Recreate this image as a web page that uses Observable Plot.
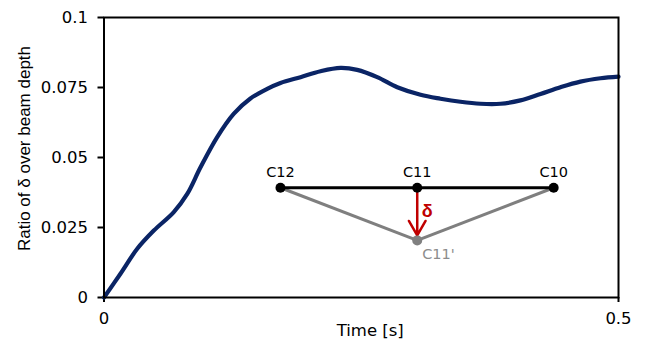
<!DOCTYPE html>
<html>
<head>
<meta charset="utf-8">
<script src="https://cdn.jsdelivr.net/npm/d3@7"></script>
<script src="https://cdn.jsdelivr.net/npm/@observablehq/plot@0.6"></script>
<style>
  html, body { margin: 0; padding: 0; background: #fff; overflow: hidden; }
  #chart svg g[aria-label="x-axis tick label"],
  #chart svg g[aria-label="y-axis tick label"],
  #chart svg g[aria-label="x-axis tick label"] text,
  #chart svg g[aria-label="y-axis tick label"] text {
    font-size: 16.5px; font-family: 'DejaVu Sans', Verdana, sans-serif; fill: #000;
  }
</style>
</head>
<body>
<div id="chart"></div>
<script>
// Curve data (Time [s] vs ratio of δ over beam depth)
const time = [0, 0.016, 0.0323, 0.0484, 0.0678, 0.0809, 0.0938, 0.110, 0.126, 0.142, 0.1586, 0.1715,
  0.191, 0.2104, 0.2298, 0.246, 0.2655, 0.285, 0.3076, 0.327, 0.3464, 0.3659, 0.3853, 0.4047,
  0.4242, 0.4436, 0.463, 0.4825, 0.5];
const ratio = [0, 0.0085, 0.0174, 0.0239, 0.0305, 0.037, 0.0465, 0.0573, 0.0656, 0.071, 0.0745, 0.0766,
  0.0787, 0.0808, 0.082, 0.0813, 0.0787, 0.0751, 0.0724, 0.071, 0.0699, 0.0692, 0.0692, 0.0704,
  0.0727, 0.0751, 0.0771, 0.0783, 0.0789];

// Axis ticks
const xTicks = [0, 0.5];
const xTickLabels = ["0", "0.5"];
const yTicks = [0, 0.025, 0.05, 0.075, 0.1];
const yTickLabels = ["0", "0.025", "0.05", "0.075", "0.1"];
const xTitle = "Time [s]";
const yTitle = "Ratio of δ over beam depth";

// Inset diagram nodes (in chart coordinates)
const nodeLabels = ["C12", "C11", "C10", "C11'"];
const nodeT = [0.1715, 0.3044, 0.437, 0.3044];
const nodeV = [0.0392, 0.0392, 0.0392, 0.0204];
const blackEdges = [[0, 2]];
const grayEdges = [[0, 3], [3, 2]];
const arrowEdges = [[1, 3]];
const deltaLabel = ["δ"];

const curve = time.map((t, i) => ({t, v: ratio[i]}));
const topNodes = [0, 1, 2];
const wide = "'DejaVu Sans', Verdana, sans-serif";
const arial = "'Liberation Sans', Arial, Helvetica, sans-serif";

const chart = Plot.plot({
  width: 648,
  height: 350,
  marginLeft: 103.5,
  marginRight: 30,
  marginTop: 17,
  marginBottom: 53,
  x: {domain: [0, 0.5]},
  y: {domain: [0, 0.1]},
  style: {fontFamily: wide, fontSize: "16px", color: "black", background: "white"},
  marks: [
    Plot.axisX({ticks: xTicks, tickSize: 5, tickPadding: 10, strokeWidth: 2,
      tickFormat: (d, i) => xTickLabels[i], label: null, fontSize: 16.5, fontFamily: wide}),
    Plot.axisY({ticks: yTicks, tickSize: 6, tickPadding: 10, strokeWidth: 2,
      tickFormat: (d, i) => yTickLabels[i], label: null, fontSize: 16.5, fontFamily: wide}),
    Plot.text([xTitle], {text: d => d, frameAnchor: "bottom", textAnchor: "middle", dx: 9, dy: 38,
      fontSize: 16.5, fontFamily: wide, fill: "black"}),
    Plot.text([yTitle], {text: d => d, frameAnchor: "left", textAnchor: "middle", lineAnchor: "middle",
      rotate: -90, dx: -79, dy: -9, fontSize: 17, fontFamily: arial, fill: "black"}),
    Plot.line(curve, {x: "t", y: "v", curve: "catmull-rom", stroke: "#0a2465", strokeWidth: 4.2}),
    Plot.link(grayEdges, {x1: d => nodeT[d[0]], y1: d => nodeV[d[0]], x2: d => nodeT[d[1]], y2: d => nodeV[d[1]],
      stroke: "#7f7f7f", strokeWidth: 3}),
    Plot.link(blackEdges, {x1: d => nodeT[d[0]], y1: d => nodeV[d[0]], x2: d => nodeT[d[1]], y2: d => nodeV[d[1]],
      stroke: "black", strokeWidth: 3}),
    Plot.arrow(arrowEdges, {x1: d => nodeT[d[0]], y1: d => nodeV[d[0]], x2: d => nodeT[d[1]], y2: d => nodeV[d[1]],
      insetStart: 5, insetEnd: 5, headLength: 10, stroke: "#c00000", strokeWidth: 2.5}),
    Plot.dot(topNodes, {x: i => nodeT[i], y: i => nodeV[i], r: 5, fill: "black"}),
    Plot.dot([3], {x: i => nodeT[i], y: i => nodeV[i], r: 5, fill: "#808080"}),
    Plot.text(topNodes, {x: i => nodeT[i], y: i => nodeV[i], text: i => nodeLabels[i], dy: -15,
      fontSize: 14.5, fontFamily: wide, fill: "black"}),
    Plot.text([3], {x: i => nodeT[i], y: i => nodeV[i], text: i => nodeLabels[i], dx: 5, dy: 14,
      textAnchor: "start", fontSize: 14.5, fontFamily: wide, fill: "#8c8c8c"}),
    Plot.text(deltaLabel, {x: () => nodeT[1], y: () => (nodeV[1] + nodeV[3]) / 2, text: d => d, dx: 10, dy: -3,
      fontSize: 18, fontWeight: "bold", fontFamily: arial, fill: "#c00000"}),
    Plot.frame({stroke: "black", strokeWidth: 2})
  ]
});
document.getElementById("chart").appendChild(chart);
</script>
</body>
</html>
